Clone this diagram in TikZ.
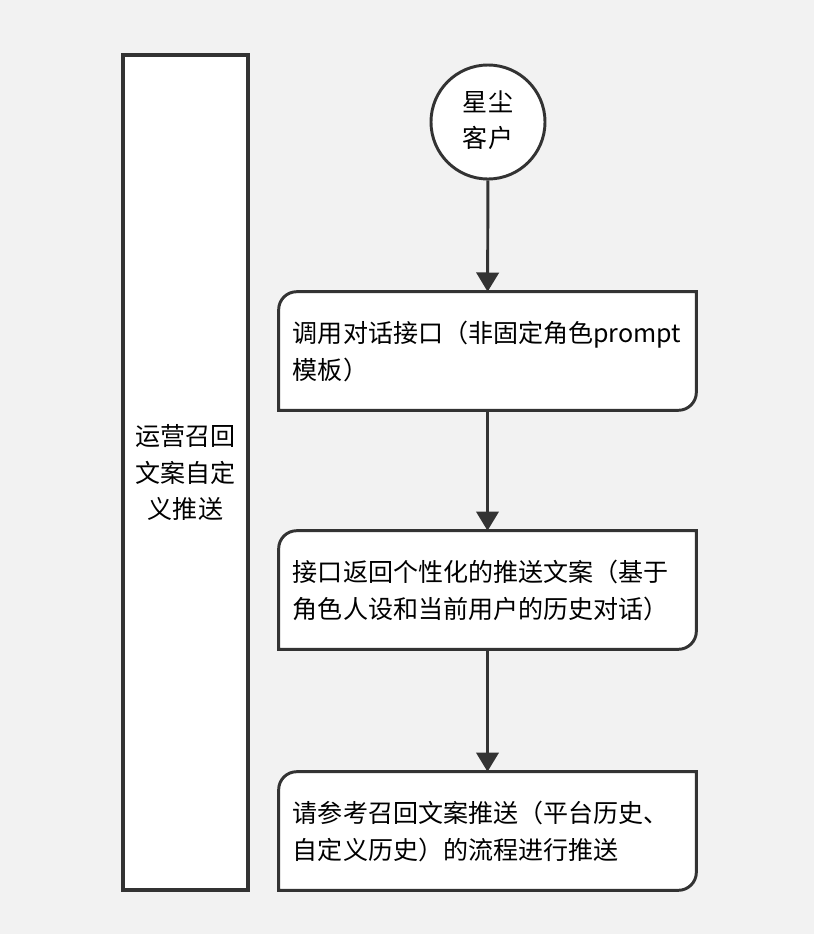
\documentclass[tikz,border=0pt]{standalone}
\usepackage{fontspec}
\setmainfont{Noto Sans CJK SC}
\usepackage{tikz}
\usetikzlibrary{ positioning, arrows.meta, calc, backgrounds }
\usepackage{xcolor}
\definecolor{pagebg}{HTML}{F2F2F2}
\definecolor{ink}{HTML}{333333}

\begin{document}
\begin{tikzpicture}[
  x=0.025cm, y=-0.025cm,
  every node/.style={font=\fontsize{17.8}{26.3}\selectfont, text=black},
  lane/.style={rectangle, draw=ink, fill=white, line width=2.6pt,
               minimum width=3.125cm, minimum height=20.875cm, align=center},
  client/.style={circle, draw=ink, fill=white, line width=2.1pt,
                 minimum size=2.85cm, inner sep=0pt, align=center},
  stepbox/.style={rectangle, text width=9.725cm, inner xsep=0.35cm, inner ysep=0pt,
                  minimum height=2.95cm, align=left},
  card/.style={draw=ink, fill=white, line width=2.1pt},
  flow/.style={draw=ink, line width=2.1pt, -{Triangle[length=0.48cm, width=0.56cm]}},
]
  % lane on the left
  \node[lane] (lane) at (185.5,472.5) {运营召回\\文案自定\\义推送};
  % start
  \node[client] (xc) at (488,122) {\raisebox{0.15cm}{\begin{tabular}{@{}c@{}}星尘\\[-0.5pt]客户\end{tabular}}};
  % steps
  \node[stepbox] (call) at (487.5,351) {调用对话接口（非固定角色prompt\\模板）};
  \node[stepbox] (ret) at (487.5,590) {接口返回个性化的推送文案（基于\\角色人设和当前用户的历史对话）};
  \node[stepbox] (push) at (487.5,831) {请参考召回文案推送（平台历史、\\自定义历史）的流程进行推送};
  % step outlines, round on two corners only
  \begin{scope}[on background layer]
    \fill[pagebg] (0,0) rectangle (814,934);
    \foreach \b in {call,ret,push} {
      \draw[card] (\b.north east) -- ($(\b.south east)+(0,-18)$)
        arc[start angle=0, end angle=-90, radius=0.45cm]
        -- (\b.south west) -- ($(\b.north west)+(0,18)$)
        arc[start angle=180, end angle=90, radius=0.45cm] -- cycle;
    }
  \end{scope}
  % connectors
  \draw[flow] (xc) -- (call);
  \draw[flow] (call) -- (ret);
  \draw[flow] (ret) -- (push);
\end{tikzpicture}
\end{document}
